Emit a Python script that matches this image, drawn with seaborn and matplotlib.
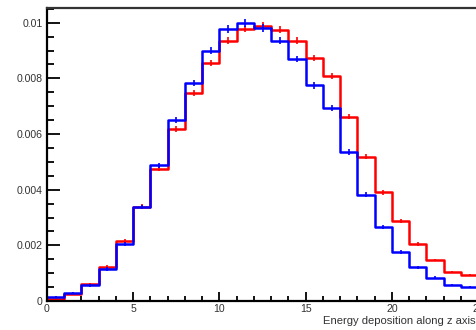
import numpy as np
import pandas as pd
import matplotlib
matplotlib.use("Agg")
import matplotlib.pyplot as plt
import seaborn as sns
from matplotlib.ticker import MultipleLocator

# --- data (25 bins of width 1, 0..25) ---
bin_edges = list(range(0, 26))
red_values = [0.00008, 0.00024, 0.00061, 0.00123, 0.00217, 0.00339, 0.00475,
              0.00618, 0.00747, 0.00855, 0.00935, 0.00978, 0.00990, 0.00975,
              0.00935, 0.00873, 0.00810, 0.00663, 0.00518, 0.00390, 0.00288,
              0.00205, 0.00147, 0.00103, 0.00094]
blue_values = [0.00015, 0.00029, 0.00056, 0.00115, 0.00204, 0.00337, 0.00487,
               0.00651, 0.00783, 0.00900, 0.00978, 0.00999, 0.00982, 0.00936,
               0.00870, 0.00775, 0.00693, 0.00535, 0.00381, 0.00265, 0.00177,
               0.00121, 0.00084, 0.00058, 0.00049]
red_errors = [0.00002, 0.00003, 0.00005, 0.00006, 0.00007, 0.00008, 0.00009,
              0.00010, 0.00011, 0.00012, 0.00012, 0.00012, 0.00012, 0.00012,
              0.00012, 0.00012, 0.00011, 0.00010, 0.00009, 0.00008, 0.00007,
              0.00006, 0.00005, 0.00004, 0.00004]
blue_errors = [0.00002, 0.00003, 0.00005, 0.00006, 0.00007, 0.00008, 0.00009,
               0.00010, 0.00011, 0.00013, 0.00014, 0.00014, 0.00014, 0.00013,
               0.00012, 0.00012, 0.00011, 0.00010, 0.00009, 0.00008, 0.00007,
               0.00006, 0.00005, 0.00004, 0.00004]
x_ticks = [0, 5, 10, 15, 20, 25]
x_ticklabels = ["0", "5", "10", "15", "20", "25"]
y_ticks = [0, 0.002, 0.004, 0.006, 0.008, 0.010]
y_ticklabels = ["0", "0.002", "0.004", "0.006", "0.008", "0.01"]
x_label = "Energy deposition along z axis"

centers = [(a + b) / 2 for a, b in zip(bin_edges[:-1], bin_edges[1:])]
df = pd.DataFrame({"x": centers, "red": red_values, "blue": blue_values,
                   "red_err": red_errors, "blue_err": blue_errors})

sns.set_style("ticks")
plt.rcParams["font.family"] = ["Liberation Sans", "DejaVu Sans"]

fig = plt.figure(figsize=(4.77, 3.30), dpi=100)
ax = fig.add_axes([47 / 477, 29 / 330, 431.25 / 477, 293 / 330])

for col, color in [("red", "#ff0000"), ("blue", "#0000ff")]:
    sns.histplot(data=df, x="x", weights=col, bins=bin_edges, element="step",
                 fill=False, color=color, linewidth=1.8, ax=ax)
    ax.errorbar(df["x"], df[col], yerr=df[col + "_err"], fmt="none",
                ecolor=color, elinewidth=1.2, capsize=0)

ax.set_xlim(0, 25)
ax.set_ylim(0, 0.01053)
ax.set_xlabel("")
ax.set_ylabel("")
ax.set_xticks(x_ticks)
ax.set_xticklabels(x_ticklabels)
ax.set_yticks(y_ticks)
ax.set_yticklabels(y_ticklabels)
ax.xaxis.set_minor_locator(MultipleLocator(1))
ax.yaxis.set_minor_locator(MultipleLocator(0.0005))

ax.tick_params(axis="y", which="major", direction="in", length=9.4, width=1.3,
               colors="black", labelcolor="#333333", labelsize=7.6, pad=3)
ax.tick_params(axis="y", which="minor", direction="in", length=5, width=1.3,
               colors="black")
ax.tick_params(axis="x", which="major", direction="in", length=6.5, width=1.3,
               colors="black", labelcolor="#333333", labelsize=7.6, pad=2)
ax.tick_params(axis="x", which="minor", direction="in", length=3.6, width=1.3,
               colors="black")

for side in ["left", "bottom", "top"]:
    ax.spines[side].set_visible(True)
    ax.spines[side].set_linewidth(1.6)
    ax.spines[side].set_color("black")
ax.spines["top"].set_color("#333333")
ax.spines["right"].set_visible(False)

fig.text(0.998, 0.012, x_label, ha="right", va="bottom", fontsize=8.1,
         color="#333333")

fig.savefig("out.png", dpi=100)
